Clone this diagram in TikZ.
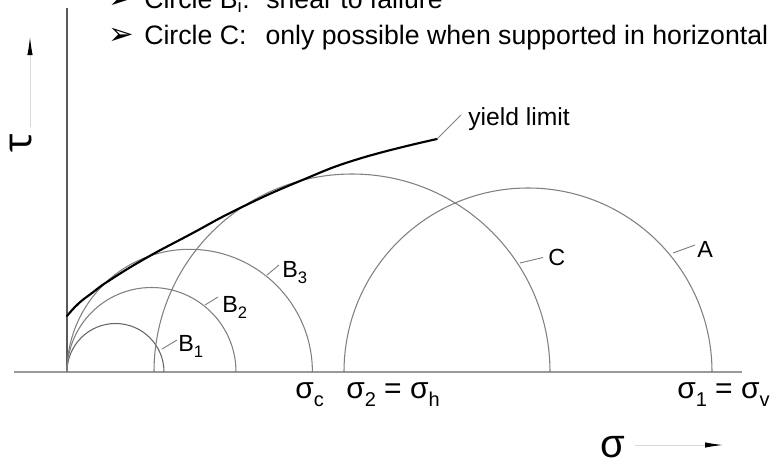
\documentclass[tikz,border=0pt]{standalone}
\usepackage{fontspec}
\setmainfont{Liberation Sans}
\newfontfamily\dingfont{DejaVu Sans}
\newfontfamily\taufont{Open Sans}
\usetikzlibrary{arrows.meta}
\newcommand\sigsub[1]{\raisebox{-6.5pt}{\fontsize{15}{18}\selectfont #1}}
\newcommand\lblsub[1]{\raisebox{-4.5pt}{\fontsize{12.5}{15}\selectfont #1}}
\begin{document}
\begin{tikzpicture}[x=0.75pt,y=-0.75pt,
  circ/.style={draw=black!50, line width=0.8pt},
  leader/.style={draw=black!50, line width=0.7pt},
  axisline/.style={draw=black!55, line width=0.8pt},
  dirarrow/.style={draw=black!15, line width=0.7pt, -{Latex[length=13.5pt,width=4pt,color=black]}},
  lbl/.style={inner sep=0pt, anchor=base west, font=\fontsize{17.5}{20}\selectfont},
  siglbl/.style={inner sep=0pt, anchor=base west, font=\fontsize{22.5}{26}\selectfont},
  toptext/.style={inner sep=0pt, anchor=base west, font=\fontsize{20}{23}\selectfont},
  bullet/.style={inner sep=0pt, anchor=base west, font=\fontsize{23}{26}\dingfont},
  yieldline/.style={draw=black, line width=1.6pt, line cap=round}]
\useasboundingbox (0,0) rectangle (772,461);
\clip (0,0) rectangle (772,461);

% header text (partly cut off at the top)
\node[bullet] (bul1) at (108,8.3) {➢};
\node[toptext] (txt1) at (144,8.3) {\makebox[91.5pt][l]{Circle B\textsubscript{i}:}shear to failure};
\node[bullet] (bul2) at (108,44.5) {➢};
\node[toptext] (txt2) at (144,44.5) {\makebox[91pt][l]{Circle C:}only possible when supported in horizontal};

% axes
\coordinate (origin) at (67,372);
\coordinate (xl) at (14,372);
\coordinate (xr) at (742,372);
\coordinate (yt) at (67,8);
\draw[axisline, draw=black!40] (xl) -- (xr);
\draw[axisline, draw=black!65] (origin) -- (yt);

% direction arrows and axis symbols
\coordinate (tauS) at (30,127);
\coordinate (tauE) at (30,37);
\draw[dirarrow] (tauS) -- (tauE);
\node[rotate=90, inner sep=0pt, font=\fontsize{30}{34}\taufont] (tau) at (21,143) {τ};
\coordinate (sigS) at (635,445);
\coordinate (sigE) at (723,445);
\draw[dirarrow] (sigS) -- (sigE);
\node[inner sep=0pt, anchor=base west, font=\fontsize{30}{36}\selectfont] (sig) at (600,457) {σ};

% Mohr circles (upper halves)
\draw[circ, draw=black!60] (67,372) arc[start angle=180, end angle=360, radius=48.5];
\draw[circ] (67,372) arc[start angle=180, end angle=360, radius=84.5];
\draw[circ] (67,372) arc[start angle=180, end angle=360, radius=122.7];
\draw[circ] (154,372) arc[start angle=180, end angle=360, radius=198];
\draw[circ] (344,372) arc[start angle=180, end angle=360, radius=184];

% yield limit
\draw[yieldline] plot[smooth, tension=0.8] coordinates {(67,316) (78,304) (92,293) (110,280) (147,257.5) (190,234.5) (240,208) (300,181) (360,158.5) (437,139)};
\coordinate (yEnd) at (437,139);
\coordinate (yTip) at (461,115);
\draw[leader] (yEnd) -- (yTip);
\node[inner sep=0pt, anchor=base west, font=\fontsize{18.5}{22}\selectfont] (ylab) at (468,125) {yield limit};

% circle labels
\node[lbl] (lB1) at (178,351) {B\lblsub{1}};
\coordinate (pB1) at (162,349);
\draw[leader] (pB1) -- (177,340);
\node[lbl] (lB2) at (222,312) {B\lblsub{2}};
\coordinate (pB2) at (205,305);
\draw[leader] (pB2) -- (218,297);
\node[lbl] (lB3) at (282,277.5) {B\lblsub{3}};
\coordinate (pB3) at (267,275);
\draw[leader] (pB3) -- (279,265);
\node[lbl] (lC) at (548,265) {C};
\coordinate (pC) at (520,263);
\draw[leader] (pC) -- (543,257.5);
\node[lbl] (lA) at (697,257) {A};
\coordinate (pA) at (673,253);
\draw[leader] (pA) -- (695,245);

% stress labels
\node[siglbl] (sc) at (295,398) {σ\sigsub{c}};
\node[siglbl] (s2) at (346,398) {σ\sigsub{2} = σ\sigsub{h}};
\node[siglbl] (s1) at (677,398) {σ\sigsub{1} = σ\sigsub{v}};
\end{tikzpicture}
\end{document}
